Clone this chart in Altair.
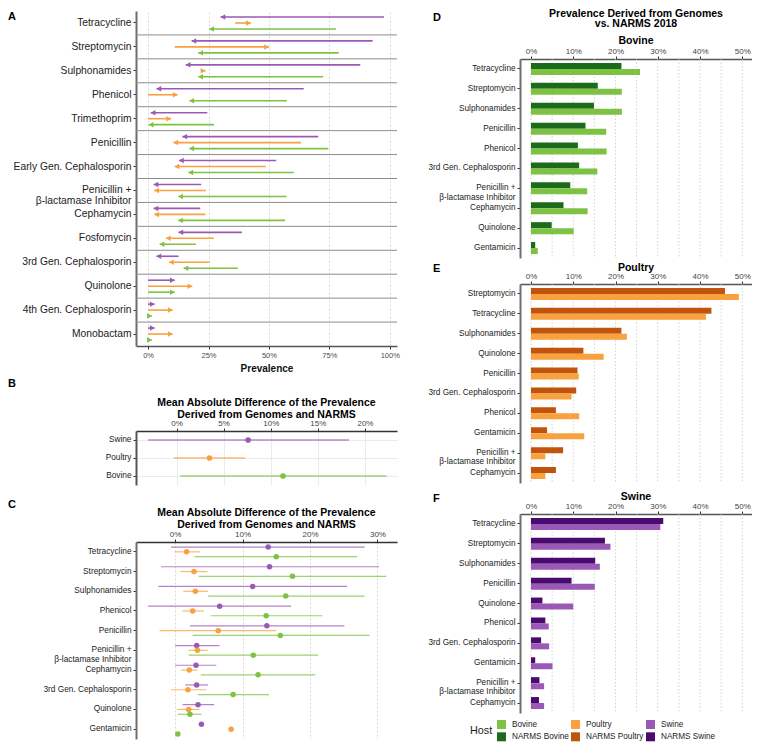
import altair as alt
import pandas as pd

FONT = "Liberation Sans"

# ---------------- shared ----------------
HOST_DOMAIN = ["Bovine", "Poultry", "Swine", "NARMS Bovine", "NARMS Poultry", "NARMS Swine"]
HOST_RANGE = ["#7dc242", "#f9a03f", "#9b59b6", "#1b6b1b", "#c1540c", "#4b0a6e"]
HOST_ROW_ORDER = ["Swine", "Poultry", "Bovine"]
PEN_BLI = "Penicillin + β-lactamase Inhibitor"
LABEL_EXPR = f"datum.label == '{PEN_BLI}' ? ['Penicillin +', 'β-lactamase Inhibitor'] : datum.label"
PCT_EXPR = "datum.value + '%'"

# ---------------- panel A data (prevalence, %) ----------------
A_CLASSES = ["Tetracycline", "Streptomycin", "Sulphonamides", "Phenicol", "Trimethoprim",
             "Penicillin", "Early Gen. Cephalosporin", PEN_BLI, "Cephamycin", "Fosfomycin",
             "3rd Gen. Cephalosporin", "Quinolone", "4th Gen. Cephalosporin", "Monobactam"]
A_SWINE_FROM = [97.6, 92.9, 87.8, 64.4, 24.5, 70.4, 53.0, 22.0, 21.6, 38.8, 12.6, 0, 0, 0]
A_SWINE_TO = [30.0, 18.0, 15.6, 3.5, 1.1, 14.2, 12.8, 2.3, 2.3, 12.6, 3.5, 11.0, 2.7, 2.7]
A_POULTRY_FROM = [36.0, 11.0, 21.8, 0, 0, 63.3, 48.7, 23.9, 23.7, 27.2, 25.5, 0, 0, 0]
A_POULTRY_TO = [42.5, 50.0, 23.7, 12.2, 9.5, 10.5, 11.0, 2.6, 2.6, 7.4, 8.7, 18.3, 10.2, 10.2]
A_BOVINE_FROM = [77.7, 78.9, 72.4, 57.4, 27.3, 74.6, 60.3, 57.3, 56.7, 19.8, 37.2, 0, 0, 0]
A_BOVINE_TO = [25.3, 20.8, 20.8, 17.1, 0.3, 17.1, 16.7, 12.5, 12.5, 4.8, 14.7, 11.0, 1.5, 1.5]
A_TICKS = [0, 25, 50, 75, 100]

# ---------------- panel B data ----------------
B_HOSTS = ["Swine", "Poultry", "Bovine"]
B_MEAN = [7.6, 3.5, 11.3]
B_LOW = [-3.0, -0.3, 0.4]
B_HIGH = [18.3, 7.3, 22.3]
B_TICKS = [0, 5, 10, 15, 20]

# ---------------- panel C data ----------------
C_CLASSES = ["Tetracycline", "Streptomycin", "Sulphonamides", "Phenicol", "Penicillin",
             PEN_BLI, "Cephamycin", "3rd Gen. Cephalosporin", "Quinolone", "Gentamicin"]
C_SWINE_MEAN = [13.8, 14.0, 11.5, 6.6, 13.6, 3.2, 3.1, 3.2, 3.4, 3.9]
C_SWINE_LOW = [-0.6, -2.1, -2.5, -4.0, 2.2, 0.0, 0.0, 1.5, 1.1, 3.9]
C_SWINE_HIGH = [28.1, 30.2, 25.5, 17.2, 25.1, 6.6, 6.1, 4.9, 5.8, 3.9]
C_POULTRY_MEAN = [1.7, 2.8, 3.0, 2.6, 6.4, 3.3, 2.1, 1.9, 2.0, 8.3]
C_POULTRY_LOW = [-0.1, 0.8, 1.2, 1.1, -2.3, 2.0, 0.9, -0.6, 0.3, 8.0]
C_POULTRY_HIGH = [3.7, 4.8, 4.9, 4.3, 15.0, 4.8, 3.3, 4.6, 3.6, 8.6]
C_BOVINE_MEAN = [15.0, 17.4, 16.4, 13.5, 15.6, 11.6, 12.3, 8.6, 2.2, 0.4]
C_BOVINE_LOW = [2.9, 3.5, 4.9, 5.3, 2.6, 2.0, 3.8, 3.4, 0.4, 0.4]
C_BOVINE_HIGH = [27.0, 31.3, 28.1, 21.8, 28.8, 21.2, 20.8, 13.9, 3.9, 0.4]
C_TICKS = [0, 10, 20, 30]

# ---------------- panels D/E/F data ----------------
D_CLASSES = ["Tetracycline", "Streptomycin", "Sulphonamides", "Penicillin", "Phenicol",
             "3rd Gen. Cephalosporin", PEN_BLI, "Cephamycin", "Quinolone", "Gentamicin"]
D_NARMS = [21.4, 15.8, 14.9, 12.9, 11.1, 11.4, 9.3, 7.7, 4.9, 1.0]
D_GENOME = [25.8, 21.5, 21.5, 17.8, 17.9, 15.7, 13.3, 13.4, 10.1, 1.6]

E_CLASSES = ["Streptomycin", "Tetracycline", "Sulphonamides", "Quinolone", "Penicillin",
             "3rd Gen. Cephalosporin", "Phenicol", "Gentamicin", PEN_BLI, "Cephamycin"]
E_NARMS = [45.9, 42.7, 21.4, 12.4, 11.0, 10.7, 5.9, 3.8, 7.6, 5.9]
E_GENOME = [49.2, 41.4, 22.7, 17.2, 11.3, 9.6, 11.4, 12.6, 3.4, 3.4]

F_CLASSES = ["Tetracycline", "Streptomycin", "Sulphonamides", "Penicillin", "Quinolone",
             "Phenicol", "3rd Gen. Cephalosporin", "Gentamicin", PEN_BLI, "Cephamycin"]
F_NARMS = [31.3, 17.5, 15.2, 9.6, 2.7, 3.4, 2.4, 1.0, 2.0, 1.9]
F_GENOME = [30.6, 18.8, 16.3, 15.1, 10.0, 4.2, 4.3, 5.1, 3.1, 3.1]
RIGHT_TICKS = [0, 10, 20, 30, 40, 50]
RIGHT_GRID = [0, 5, 10, 15, 20, 25, 30, 35, 40, 45, 50]

WL = 261          # left column plot width
WR = 232          # right column plot width


def color_enc(legend=None):
    return alt.Color("Host:N", scale=alt.Scale(domain=HOST_DOMAIN, range=HOST_RANGE), legend=legend)


def letter(ch, x, y):
    return alt.Chart(pd.DataFrame({"t": [ch]})).mark_text(
        fontSize=11, fontWeight="bold", align="left", baseline="alphabetic", color="#000000"
    ).encode(text="t:N", x=alt.value(x), y=alt.value(y))


def heading(txt, x, y, fs=10.5, lh=12.2):
    return alt.Chart(pd.DataFrame({"t": [txt]})).mark_text(
        fontSize=fs, fontWeight="bold", align="center", baseline="alphabetic",
        lineBreak="\n", lineHeight=lh, color="#000000"
    ).encode(text="t:N", x=alt.value(x), y=alt.value(y))


def y_axis(fs, lh):
    return alt.Axis(title=None, labelExpr=LABEL_EXPR, labelFontSize=fs, labelColor="#222222",
                    labelLineHeight=lh, domainColor="#6e6e6e", domainWidth=2, tickColor="#333333",
                    tickSize=3, labelPadding=2, grid=False, bandPosition=0.5)


# ================= Panel A =================
rowsA = []
for i, c in enumerate(A_CLASSES):
    for host, fr, to in (("Swine", A_SWINE_FROM, A_SWINE_TO),
                         ("Poultry", A_POULTRY_FROM, A_POULTRY_TO),
                         ("Bovine", A_BOVINE_FROM, A_BOVINE_TO)):
        rowsA.append({"Class": c, "Host": host, "from": fr[i], "to": to[i],
                      "dir": "left" if to[i] < fr[i] else "right"})
dfA = pd.DataFrame(rowsA)

HA = 335
xA_scale = alt.Scale(domain=[-5, 103], nice=False, zero=False)
xA_axis = alt.Axis(values=A_TICKS, labelExpr=PCT_EXPR, title="Prevalence", orient="bottom",
                   grid=True, gridDash=[2, 2], gridColor="#cfcfcf", gridWidth=0.8,
                   domainColor="#555555", domainWidth=1.5, tickColor="#333333", tickSize=3,
                   labelFontSize=7.5, labelColor="#4d4d4d", labelPadding=2,
                   titleFontSize=10, titleFontWeight="bold", titlePadding=5, titleColor="#111111")
yA_scale = alt.Scale(type="band", domain=A_CLASSES, paddingInner=0, paddingOuter=0)
yA = alt.Y("Class:N", scale=yA_scale, axis=y_axis(10.3, 10.7))
yOffA = alt.YOffset("Host:N", scale=alt.Scale(domain=HOST_ROW_ORDER, paddingInner=0, paddingOuter=0.5))

sepA = alt.Chart(pd.DataFrame({"Class": A_CLASSES[1:]})).mark_rule(color="#8c8c8c", strokeWidth=1).encode(
    y=alt.Y("Class:N", scale=yA_scale, axis=y_axis(10.3, 10.7), bandPosition=0),
    x=alt.value(0), x2=alt.value(WL))
shaftsA = alt.Chart(dfA).mark_rule(strokeWidth=1.6).encode(
    x=alt.X("from:Q", scale=xA_scale, axis=xA_axis), x2="to:Q", y=yA, yOffset=yOffA, color=color_enc())
headsL = alt.Chart(dfA).transform_filter("datum.dir == 'left'").mark_point(
    shape="triangle-left", filled=True, size=30, opacity=1, strokeWidth=0, xOffset=2.3).encode(
    x=alt.X("to:Q", scale=xA_scale, axis=xA_axis), y=yA, yOffset=yOffA, color=color_enc())
headsR = alt.Chart(dfA).transform_filter("datum.dir == 'right'").mark_point(
    shape="triangle-right", filled=True, size=30, opacity=1, strokeWidth=0, xOffset=-2.3).encode(
    x=alt.X("to:Q", scale=xA_scale, axis=xA_axis), y=yA, yOffset=yOffA, color=color_enc())

panelA = alt.layer(sepA, shaftsA, headsL, headsR, letter("A", -128, 9)).properties(width=WL, height=HA)

# ================= Panel B =================
dfB = pd.DataFrame({"Host": B_HOSTS, "mean": B_MEAN, "lo": B_LOW, "hi": B_HIGH})
xB_scale = alt.Scale(domain=[-4.3, 23.4], nice=False, zero=False)
xB_axis = alt.Axis(values=B_TICKS, labelExpr=PCT_EXPR, title=None, orient="top", grid=True,
                   gridColor="#e6e6e6", gridWidth=0.8, domainColor="#333333", domainWidth=1.5,
                   tickColor="#333333", tickSize=3, labelFontSize=8, labelColor="#444444", labelPadding=1)
yB_axis = alt.Axis(title=None, labelFontSize=8.3, labelColor="#222222", domainColor="#555555",
                   domainWidth=2, tickColor="#333333", tickSize=3, labelPadding=2, grid=True,
                   gridColor="#e6e6e6", gridWidth=0.8, bandPosition=0.5)
yB = alt.Y("Host:N", scale=alt.Scale(type="band", domain=B_HOSTS, paddingInner=0, paddingOuter=0), axis=yB_axis)
linesB = alt.Chart(dfB).mark_rule(strokeWidth=1.4, opacity=0.7).encode(
    x=alt.X("lo:Q", scale=xB_scale, axis=xB_axis), x2="hi:Q", y=yB, color=color_enc())
ptsB = alt.Chart(dfB).mark_circle(size=32, opacity=1).encode(
    x=alt.X("mean:Q", scale=xB_scale, axis=xB_axis), y=yB, color=color_enc())
panelB = alt.layer(
    linesB, ptsB, letter("B", -128, -44),
    heading("Mean Absolute Difference of the Prevalence\nDerived from Genomes and NARMS", WL / 2, -25.5)
).properties(width=WL, height=54)

# ================= Panel C =================
rowsC = []
for i, c in enumerate(C_CLASSES):
    for host, m, lo, hi in (("Swine", C_SWINE_MEAN, C_SWINE_LOW, C_SWINE_HIGH),
                            ("Poultry", C_POULTRY_MEAN, C_POULTRY_LOW, C_POULTRY_HIGH),
                            ("Bovine", C_BOVINE_MEAN, C_BOVINE_LOW, C_BOVINE_HIGH)):
        rowsC.append({"Class": c, "Host": host, "mean": m[i], "lo": lo[i], "hi": hi[i]})
dfC = pd.DataFrame(rowsC)
xC_scale = alt.Scale(domain=[-5.8, 32.9], nice=False, zero=False)
xC_axis = alt.Axis(values=C_TICKS, labelExpr=PCT_EXPR, title=None, orient="top", grid=True,
                   gridDash=[2, 2], gridColor="#cfcfcf", gridWidth=0.8, domainColor="#333333",
                   domainWidth=1.5, tickColor="#333333", tickSize=3, labelFontSize=8,
                   labelColor="#444444", labelPadding=1)
yC = alt.Y("Class:N", scale=alt.Scale(type="band", domain=C_CLASSES, paddingInner=0, paddingOuter=0),
           axis=y_axis(8.3, 9.2))
yOffC = alt.YOffset("Host:N", scale=alt.Scale(domain=HOST_ROW_ORDER, paddingInner=0, paddingOuter=0.55))
linesC = alt.Chart(dfC).mark_rule(strokeWidth=1.2, opacity=0.75).encode(
    x=alt.X("lo:Q", scale=xC_scale, axis=xC_axis), x2="hi:Q", y=yC, yOffset=yOffC, color=color_enc())
ptsC = alt.Chart(dfC).mark_circle(size=30, opacity=1).encode(
    x=alt.X("mean:Q", scale=xC_scale, axis=xC_axis), y=yC, yOffset=yOffC, color=color_enc())
panelC = alt.layer(
    linesC, ptsC, letter("C", -128, -34),
    heading("Mean Absolute Difference of the Prevalence\nDerived from Genomes and NARMS", WL / 2, -26)
).properties(width=WL, height=197)


# ================= Panels D/E/F =================
def bar_panel(species, classes, narms, genome, letter_ch=None, sub=None, legend=None):
    rows = []
    for c, n, g in zip(classes, narms, genome):
        rows.append({"Class": c, "Source": "NARMS", "Host": "NARMS " + species, "value": n})
        rows.append({"Class": c, "Source": "Genome", "Host": species, "value": g})
    df = pd.DataFrame(rows)
    xs = alt.Scale(domain=[-2.6, 52.3], nice=False, zero=False)
    xax = alt.Axis(values=RIGHT_TICKS, labelExpr=PCT_EXPR, title=None, orient="top", grid=False,
                   domainColor="#555555", domainWidth=1.5, tickColor="#333333", tickSize=3,
                   labelFontSize=8, labelColor="#444444", labelPadding=1)
    y = alt.Y("Class:N", scale=alt.Scale(type="band", domain=classes, paddingInner=0, paddingOuter=0),
              axis=y_axis(8.2, 9.2))
    grid = alt.Chart(pd.DataFrame({"g": RIGHT_GRID})).mark_rule(
        strokeDash=[1.5, 2], color="#c8c8c8", strokeWidth=0.8).encode(x=alt.X("g:Q", scale=xs, axis=xax))
    bars = alt.Chart(df).mark_bar().encode(
        x=alt.X("value:Q", scale=xs, axis=xax, stack=None), x2=alt.datum(0), y=y,
        yOffset=alt.YOffset("Source:N", scale=alt.Scale(domain=["NARMS", "Genome"], paddingInner=0, paddingOuter=0.66)),
        color=color_enc(legend))
    layers = [grid, bars]
    if letter_ch is not None:
        layers += [letter(letter_ch, -87, sub[1]), heading(species, WR / 2, sub[0], fs=10.5)]
    return alt.layer(*layers).properties(width=WR, height=199)


legendF = alt.Legend(orient="none", legendX=-50, legendY=206, columns=3, direction="horizontal",
                     title="Host", titleOrient="left", titleAnchor="middle", titleBaseline="middle",
                     titleFontSize=10.8, titleFontWeight="normal", titleColor="#222222", titlePadding=4,
                     labelFontSize=8.2, labelColor="#222222", labelOffset=6, symbolType="square",
                     symbolSize=81, symbolStrokeWidth=0, symbolOpacity=1, rowPadding=2.3, columnPadding=2)

headerD = alt.layer(
    heading("Prevalence Derived from Genomes\nvs. NARMS 2018", WR / 2, 5.7, lh=10.6),
    heading("Bovine", WR / 2, 33.3),
    letter("D", -87, 9.8),
).properties(width=WR, height=36)
panelD = bar_panel("Bovine", D_CLASSES, D_NARMS, D_GENOME)
panelE = bar_panel("Poultry", E_CLASSES, E_NARMS, E_GENOME, "E", (-13.3, -11.6))
panelF = bar_panel("Swine", F_CLASSES, F_NARMS, F_GENOME, "F", (-13.7, -11.6), legend=legendF)

RES = dict(x="independent", y="independent", yOffset="independent", color="independent")

left = alt.vconcat(panelA, alt.vconcat(panelB, panelC, spacing=14).resolve_scale(**RES), spacing=4).resolve_scale(**RES)
right = alt.vconcat(
    alt.vconcat(headerD, panelD, spacing=0).resolve_scale(**RES),
    alt.vconcat(panelE, panelF, spacing=8).resolve_scale(**RES),
    spacing=3).resolve_scale(**RES)

chart = alt.hconcat(left, right, spacing=28).resolve_scale(**RES).properties(padding=0).configure(
    font=FONT).configure_view(stroke=None)

chart.save("out.html", embed_options={"renderer": "svg", "actions": False})
